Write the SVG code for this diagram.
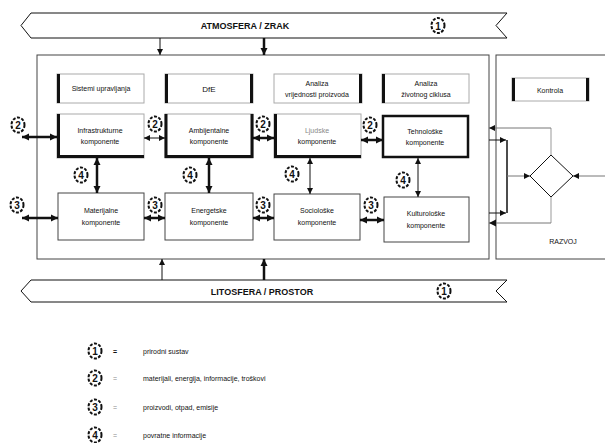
<svg xmlns="http://www.w3.org/2000/svg" width="605" height="443" viewBox="0 0 605 443">
<style>
text{font-family:"Liberation Sans",Arial,sans-serif;fill:#111}
.bt{font-size:9px;font-weight:bold;text-anchor:middle}
.lb{font-size:7px;text-anchor:middle}
.lg{font-size:7px}
.frame{fill:#fff;stroke:#444;stroke-width:1}
.gbox{fill:#fff;stroke:#aaa;stroke-width:1}
.thk{stroke:#111;stroke-width:3;fill:none}
.rbox{fill:#fff;stroke:#444;stroke-width:1}
.ln{stroke:#111;stroke-width:1;fill:none}
.lg2{stroke:#999;stroke-width:1;fill:none}
.a2{stroke:#111;stroke-width:2.5;fill:none;marker-start:url(#ah);marker-end:url(#ah)}
.a1{stroke:#111;stroke-width:1;fill:none;marker-start:url(#as);marker-end:url(#as)}
.e1{stroke:#111;stroke-width:1;fill:none;marker-end:url(#as)}
.e2{stroke:#111;stroke-width:2.5;fill:none;marker-end:url(#ah)}
.cn ellipse{fill:#fff;stroke:#111;stroke-width:2;stroke-dasharray:3 1.5}
.cn text{font-size:10px;font-weight:bold;text-anchor:middle}
</style>
<defs>
<marker id="ah" markerUnits="userSpaceOnUse" markerWidth="8" markerHeight="8" refX="7" refY="4" orient="auto-start-reverse"><path d="M0,0.5 L7,4 L0,7.5 z" fill="#111"/></marker>
<marker id="as" markerUnits="userSpaceOnUse" markerWidth="7" markerHeight="7" refX="6" refY="3.5" orient="auto-start-reverse"><path d="M0,0.5 L6,3.5 L0,6.5 z" fill="#111"/></marker>
</defs>
<rect width="605" height="443" fill="#fff"/>

<g id="atmosfera">
<path d="M31,13 L507,13 L496,25.5 L507,38 L31,38 L21,25.5 Z" fill="#fff" stroke="#111" stroke-width="1"/>
<text class="bt" x="245" y="29">ATMOSFERA / ZRAK</text>
<g class="cn"><ellipse cx="438" cy="25.5" rx="6.5" ry="7.5"/><text x="438" y="29.5">1</text></g>
</g>

<g id="litosfera">
<path d="M31,280 L507,280 L496,291 L507,302 L31,302 L21,291 Z" fill="#fff" stroke="#111" stroke-width="1"/>
<text class="bt" x="262" y="294.5">LITOSFERA / PROSTOR</text>
<g class="cn"><ellipse cx="444" cy="291" rx="6.5" ry="7.5"/><text x="444" y="295">1</text></g>
</g>

<g id="sustav">
<rect class="frame" x="37" y="55" width="452" height="204"/>
</g>
<g id="razvoj">
<rect class="frame" x="496" y="55" width="115" height="204"/>
<text class="lb" x="563" y="244">RAZVOJ</text>
</g>

<g id="kontrola">
<rect class="gbox" x="512" y="78" width="77" height="23"/>
<path class="thk" d="M513.5,78 V101 M587.5,78 V101"/>
<text class="lb" x="550" y="92.5">Kontrola</text>
</g>

<g id="odluka">
<path d="M551,155 L573,176 L551,197 L530,176 Z" fill="#fff" stroke="#111" stroke-width="1"/>
</g>

<g id="r1b1">
<rect class="gbox" x="57" y="74" width="87" height="29"/>
<path class="thk" d="M58.5,74 V103"/>
<text class="lb" x="101" y="91">Sistemi upravljanja</text>
</g>
<g id="r1b2">
<rect class="gbox" x="165" y="74" width="88" height="29"/>
<path class="thk" d="M166.5,74 V103 M251.5,74 V103"/>
<text class="lb" x="209" y="91.5" style="font-size:8px">DfE</text>
</g>
<g id="r1b3">
<rect class="gbox" x="274" y="74" width="88" height="29"/>
<path class="thk" d="M360.5,74 V103"/>
<text class="lb" x="317" y="86">Analiza</text>
<text class="lb" x="317" y="97">vrijednosti proizvoda</text>
</g>
<g id="r1b4">
<rect class="gbox" x="382" y="74" width="87" height="29"/>
<path class="thk" d="M383.5,74 V103"/>
<text class="lb" x="426" y="86">Analiza</text>
<text class="lb" x="426" y="97">životnog ciklusa</text>
</g>

<g id="r2b1">
<rect class="gbox" x="57" y="114" width="87" height="44"/>
<path class="thk" d="M58.5,114 V156.5 H144"/>
<text class="lb" x="100" y="133">Infrastrukturne</text>
<text class="lb" x="100" y="144">komponente</text>
</g>
<g id="r2b2">
<rect class="gbox" x="165" y="114" width="88" height="44"/>
<path class="thk" d="M166,114 V156.5 H252 V114"/>
<text class="lb" x="209" y="133">Ambijentalne</text>
<text class="lb" x="209" y="144">komponente</text>
</g>
<g id="r2b3">
<rect class="gbox" x="274" y="114" width="87" height="44"/>
<path class="thk" d="M275.5,114 V156.5 H361"/>
<text class="lb" x="317" y="133" style="fill:#888">Ljudske</text>
<text class="lb" x="317" y="144">komponente</text>
</g>
<g id="r2b4">
<rect x="383" y="116" width="85" height="41" fill="#fff" stroke="#111" stroke-width="2.5"/>
<text class="lb" x="425" y="134">Tehnološke</text>
<text class="lb" x="425" y="145">komponente</text>
</g>

<g id="r3b1">
<rect class="rbox" x="58" y="193" width="86" height="47"/>
<text class="lb" x="101" y="213">Materijalne</text>
<text class="lb" x="101" y="225">komponente</text>
</g>
<g id="r3b2">
<rect class="rbox" x="165" y="193" width="88" height="47"/>
<text class="lb" x="209" y="213">Energetske</text>
<text class="lb" x="209" y="225">komponente</text>
</g>
<g id="r3b3">
<rect class="rbox" x="274" y="194" width="86" height="46"/>
<text class="lb" x="317" y="213">Sociološke</text>
<text class="lb" x="317" y="225">komponente</text>
</g>
<g id="r3b4">
<rect class="rbox" x="384" y="197" width="85" height="45"/>
<text class="lb" x="426" y="216">Kulturološke</text>
<text class="lb" x="426" y="228">komponente</text>
</g>

<g id="connectors">
<line class="e1" x1="160" y1="38" x2="160" y2="55"/>
<line class="e2" x1="264" y1="38" x2="264" y2="55"/>
<line class="e1" x1="162" y1="280" x2="162" y2="259"/>
<line class="e2" x1="264" y1="280" x2="264" y2="259"/>

<line class="a2" x1="22" y1="137" x2="57" y2="137"/>
<line class="a1" x1="144" y1="138" x2="165" y2="138"/>
<line class="a2" x1="253" y1="138" x2="274" y2="138"/>
<line class="a2" x1="361" y1="140" x2="383" y2="140"/>

<line class="a2" x1="22" y1="218" x2="58" y2="218"/>
<line class="a2" x1="144" y1="218" x2="165" y2="218"/>
<line class="a2" x1="253" y1="218" x2="274" y2="218"/>
<line class="a2" x1="360" y1="220" x2="384" y2="220"/>

<line class="a2" x1="97" y1="158" x2="97" y2="193"/>
<line class="a2" x1="209" y1="158" x2="209" y2="193"/>
<line class="a1" x1="310" y1="158" x2="310" y2="194"/>
<line class="a1" x1="418" y1="158" x2="418" y2="197"/>

<path class="lg2" d="M551,155 V128"/>
<path class="e1" d="M551,128 H489" style="stroke:#777"/>
<path class="lg2" d="M551,197 V223"/>
<path class="e2" d="M551,223 H489" style="stroke:#777;stroke-width:1"/>
<path class="ln" d="M507,140 V213" style="stroke-width:1.5"/>
<path class="e1" d="M489,140 H506"/>
<path class="e1" d="M489,213 H506"/>
<path class="e1" d="M507,176 H530" style="stroke:#777"/>
<path class="e1" d="M605,176 H573" style="stroke:#777"/>
</g>

<g id="labels">
<g class="cn"><ellipse cx="18" cy="125" rx="6.5" ry="7.5"/><text x="18" y="129">2</text></g>
<g class="cn"><ellipse cx="155" cy="124" rx="6.5" ry="7.5"/><text x="155" y="128">2</text></g>
<g class="cn"><ellipse cx="263" cy="124" rx="6.5" ry="7.5"/><text x="263" y="128">2</text></g>
<g class="cn"><ellipse cx="370" cy="125" rx="6.5" ry="7.5"/><text x="370" y="129">2</text></g>
<g class="cn"><ellipse cx="17" cy="205" rx="6.5" ry="7.5"/><text x="17" y="209">3</text></g>
<g class="cn"><ellipse cx="155" cy="205" rx="6.5" ry="7.5"/><text x="155" y="209">3</text></g>
<g class="cn"><ellipse cx="263" cy="205" rx="6.5" ry="7.5"/><text x="263" y="209">3</text></g>
<g class="cn"><ellipse cx="371" cy="205" rx="6.5" ry="7.5"/><text x="371" y="209">3</text></g>
<g class="cn"><ellipse cx="81" cy="175" rx="6.5" ry="7.5"/><text x="81" y="179">4</text></g>
<g class="cn"><ellipse cx="190" cy="175" rx="6.5" ry="7.5"/><text x="190" y="179">4</text></g>
<g class="cn"><ellipse cx="292" cy="174" rx="6.5" ry="7.5"/><text x="292" y="178">4</text></g>
<g class="cn"><ellipse cx="403" cy="180" rx="6.5" ry="7.5"/><text x="403" y="184">4</text></g>
</g>

<g id="legend">
<g class="cn"><ellipse cx="95" cy="351" rx="6.5" ry="7.5"/><text x="95" y="355">1</text></g>
<text class="lg" x="113" y="354" style="font-weight:bold">=</text>
<text class="lg" x="143" y="354">prirodni sustav</text>
<g class="cn"><ellipse cx="95" cy="378" rx="6.5" ry="7.5"/><text x="95" y="382">2</text></g>
<text class="lg" x="113" y="381" style="fill:#888">=</text>
<text class="lg" x="143" y="381">materijali, energija, informacije, troškovi</text>
<g class="cn"><ellipse cx="95" cy="407" rx="6.5" ry="7.5"/><text x="95" y="411">3</text></g>
<text class="lg" x="113" y="410" style="fill:#888">=</text>
<text class="lg" x="143" y="410">proizvodi, otpad, emisije</text>
<g class="cn"><ellipse cx="95" cy="435" rx="6.5" ry="7.5"/><text x="95" y="439">4</text></g>
<text class="lg" x="113" y="438" style="fill:#888">=</text>
<text class="lg" x="143" y="438">povratne informacije</text>
</g>
</svg>
